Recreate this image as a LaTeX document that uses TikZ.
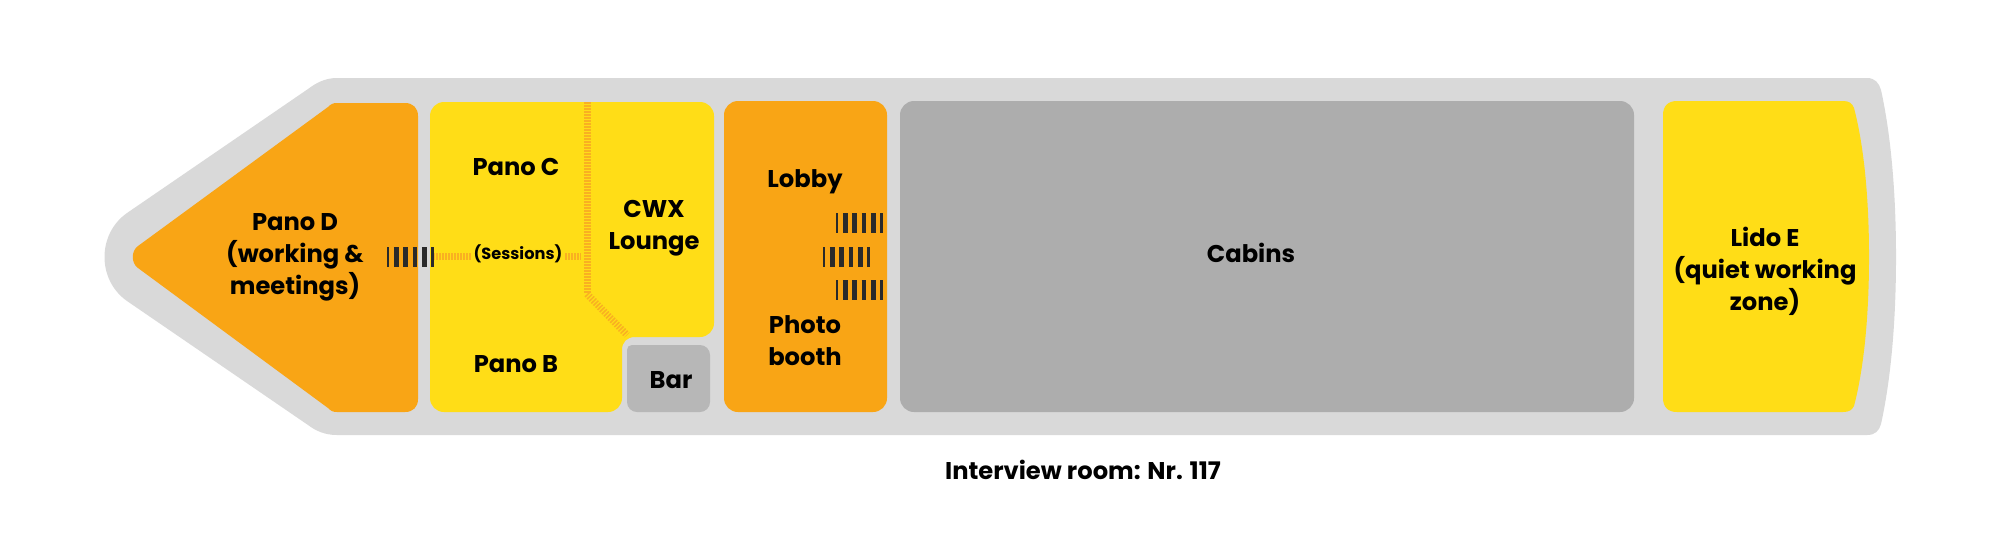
\documentclass[tikz,border=0pt]{standalone}
\usepackage{fontspec}
\setmainfont{Poppins}
\definecolor{hullGray}{HTML}{D9D9D9}
\definecolor{roomOrange}{HTML}{F9A515}
\definecolor{roomYellow}{HTML}{FFDD17}
\definecolor{cabinGray}{HTML}{ADADAD}
\definecolor{barGray}{HTML}{B7B7B7}
\definecolor{doorBlack}{HTML}{2A2A2A}
\definecolor{wallOrange}{HTML}{F9B021}

\begin{document}
\begin{tikzpicture}[x=0.5pt, y=-0.5pt]
  \tikzstyle{room} = [rounded corners=7pt];
  \tikzstyle{roomLabel} = [align=center, inner sep=0pt, text=black, font={\bfseries\fontsize{12.1}{16}\selectfont}];
  \tikzstyle{door} = [doorBlack, line width=10pt, dash pattern=on 2.33pt off 2.33pt, dash phase=1.17pt];
  \tikzstyle{wall} = [wallOrange, line width=3.5pt, dash pattern=on 0.75pt off 0.75pt];

  \useasboundingbox (0,0) rectangle (2000,554);

  % hull
  \fill[hullGray] (337,78) -- (1867,78) .. controls (1875,78) and (1879,83) .. (1881,90)
    .. controls (1892,140) and (1896,200) .. (1896,257)
    .. controls (1896,314) and (1892,374) .. (1881,424)
    .. controls (1879,431) and (1875,435) .. (1867,435) -- (337,435)
    .. controls (325,435) and (316,431) .. (308,425) -- (127,301)
    .. controls (97,280) and (97,234) .. (127,213) -- (308,89)
    .. controls (316,83) and (325,78) .. (337,78) -- cycle;

  % rooms
  \fill[roomOrange] (337,103) -- (405,103) .. controls (413,103) and (418,108) .. (418,116)
    -- (418,399) .. controls (418,407) and (413,412) .. (405,412) -- (337,412)
    .. controls (333,412) and (331,411) .. (328,408) -- (138,268)
    .. controls (131,263) and (131,251) .. (138,246) -- (328,107)
    .. controls (331,104) and (333,103) .. (337,103) -- cycle;
  \fill[roomYellow, room] (430,102) -- (714,102) -- (714,337) -- (622,337) -- (622,412) -- (430,412) -- cycle;
  \fill[barGray, rounded corners=5pt] (627,345) rectangle (710,412);
  \fill[roomOrange, room] (724,101) rectangle (887,412);
  \fill[cabinGray, room] (900,101) rectangle (1634,412);
  \fill[roomYellow] (1677,101) -- (1843,101) .. controls (1849,101) and (1852,103) .. (1854,108)
    .. controls (1865,150) and (1869,205) .. (1869,257)
    .. controls (1869,309) and (1865,364) .. (1854,406)
    .. controls (1852,410) and (1849,412) .. (1843,412) -- (1677,412)
    .. controls (1668,412) and (1663,407) .. (1663,398) -- (1663,115)
    .. controls (1663,106) and (1668,101) .. (1677,101) -- cycle;
  % notch of the lounge
  \fill[hullGray] (622,337) rectangle (635,350);
  \fill[roomYellow] (622,350) .. controls (622,342) and (627,337) .. (635,337) -- (622,337) -- cycle;
  \fill[barGray] (627,358) -- (627,350) .. controls (627,347) and (629,345) .. (632,345) -- (640,345) -- (640,358) -- cycle;

  \coordinate (wallW) at (433,256);
  \coordinate (wallE) at (581,256);
  \coordinate (wallN) at (587,102);
  \coordinate (wallBend) at (587,294);
  \coordinate (wallS) at (627,335);
  \draw[wall] (wallW) -- (wallE);
  \draw[wall] (wallN) -- (wallBend);
  \draw[wall] (wallBend) -- (wallS);

  \coordinate (doorDw) at (387,257);
  \coordinate (doorDe) at (433.6,257);
  \coordinate (lobbyAw) at (836,223);
  \coordinate (lobbyAe) at (882.6,223);
  \coordinate (lobbyBw) at (823,257);
  \coordinate (lobbyBe) at (869.6,257);
  \coordinate (lobbyCw) at (836,290);
  \coordinate (lobbyCe) at (882.6,290);
  \draw[door] (doorDw) -- (doorDe);
  \draw[door] (lobbyAw) -- (lobbyAe);
  \draw[door] (lobbyBw) -- (lobbyBe);
  \draw[door] (lobbyCw) -- (lobbyCe);

  \node[roomLabel] (panoD) at (295,257) {Pano D\\(working \&\\meetings)};
  \node[roomLabel] (panoC) at (516,167) {Pano C};
  \node[roomLabel] (panoB) at (516,364) {Pano B};
  \node[roomLabel] (lounge) at (654,228) {CWX\\Lounge};
  \node[roomLabel, fill=roomYellow, inner xsep=1pt, font={\bfseries\fontsize{8.1}{11}\selectfont}] (sessions) at (518,254) {(Sessions)};
  \node[roomLabel] (bar) at (671,380) {Bar};
  \node[roomLabel] (lobby) at (805,182) {Lobby};
  \node[roomLabel] (photo) at (805,341) {Photo\\booth};
  \node[roomLabel] (cabins) at (1251,253) {Cabins};
  \node[roomLabel] (lido) at (1765,271) {Lido E\\(quiet working\\zone)};
  \node[roomLabel] (interview) at (1083,470) {Interview room: Nr. 117};
\end{tikzpicture}
\end{document}
